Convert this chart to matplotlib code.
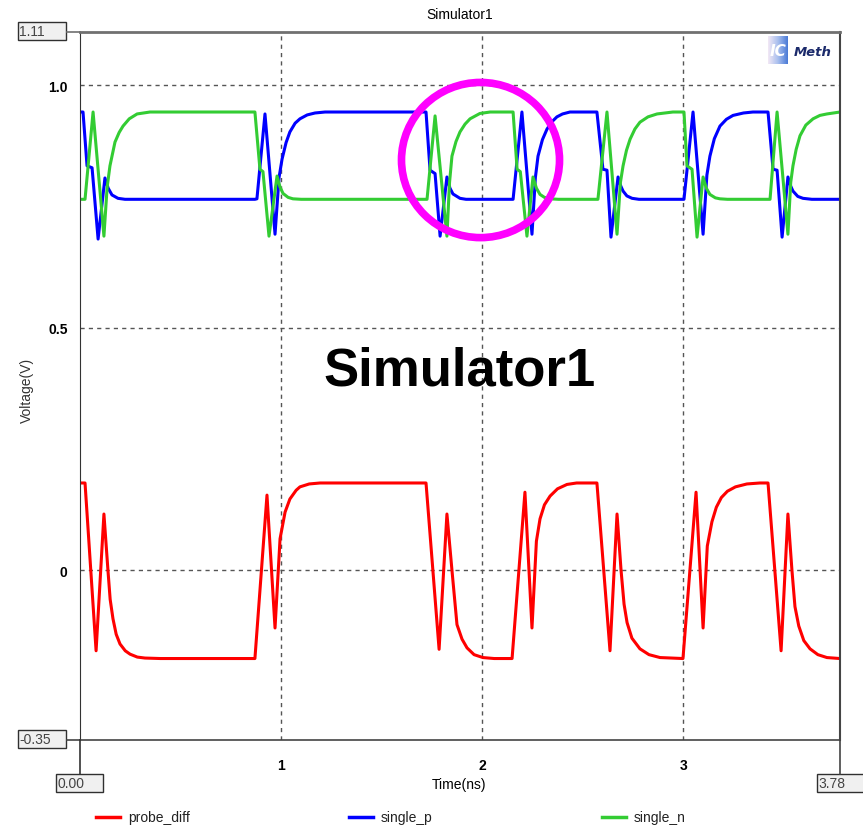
import numpy as np
import matplotlib.pyplot as plt
from matplotlib.colors import LinearSegmentedColormap
from matplotlib.patches import Ellipse, Rectangle
from matplotlib.lines import Line2D

W, H = 863, 828
SANS = ['Liberation Sans', 'DejaVu Sans']

# probe_diff : time (ns) / voltage (V)
t_diff = [0.000, 0.025, 0.080, 0.119, 0.139, 0.150, 0.164, 0.180, 0.199, 0.225, 0.249, 0.285, 0.323, 0.400,
          0.870, 0.930, 0.970, 0.995, 1.020, 1.044, 1.075, 1.094, 1.140, 1.194,
          1.721, 1.786, 1.825, 1.850, 1.875, 1.900, 1.925, 1.960, 2.004, 2.060,
          2.149, 2.213, 2.248, 2.270, 2.288, 2.310, 2.338, 2.375, 2.422, 2.470,
          2.571, 2.636, 2.671, 2.691, 2.706, 2.721, 2.745, 2.785, 2.830, 2.885,
          2.999, 3.064, 3.099, 3.120, 3.143, 3.165, 3.190, 3.220, 3.260, 3.317, 3.382,
          3.422, 3.487, 3.521, 3.541, 3.556, 3.575, 3.600, 3.631, 3.670, 3.715, 3.780]
v_diff = [0.180, 0.180, -0.166, 0.116, 0.000, -0.060, -0.100, -0.132, -0.152, -0.166, -0.173, -0.179, -0.181, -0.182,
          -0.182, 0.155, -0.119, 0.065, 0.120, 0.147, 0.165, 0.172, 0.178, 0.180,
          0.180, -0.163, 0.116, 0.000, -0.112, -0.142, -0.160, -0.174, -0.180, -0.182,
          -0.182, 0.161, -0.119, 0.060, 0.106, 0.135, 0.153, 0.168, 0.177, 0.180,
          0.180, -0.166, 0.116, 0.000, -0.070, -0.108, -0.140, -0.162, -0.174, -0.180,
          -0.182, 0.161, -0.119, 0.050, 0.100, 0.130, 0.150, 0.163, 0.172, 0.178, 0.180,
          0.180, -0.166, 0.116, 0.000, -0.075, -0.115, -0.145, -0.162, -0.174, -0.180, -0.182]

# single_p
t_p = [0.000, 0.015, 0.035, 0.060, 0.090, 0.124, 0.140, 0.159, 0.189, 0.224,
       0.870, 0.880, 0.920, 0.970, 0.990, 1.005, 1.025, 1.044, 1.070, 1.094, 1.130, 1.169, 1.219,
       1.721, 1.741, 1.766, 1.791, 1.825, 1.840, 1.855, 1.890, 1.920,
       2.154, 2.198, 2.248, 2.265, 2.278, 2.300, 2.323, 2.350, 2.372, 2.400, 2.437,
       2.571, 2.601, 2.621, 2.641, 2.676, 2.690, 2.701, 2.720, 2.746, 2.780,
       3.004, 3.049, 3.099, 3.118, 3.133, 3.155, 3.183, 3.215, 3.248, 3.300, 3.347,
       3.422, 3.447, 3.467, 3.492, 3.521, 3.535, 3.546, 3.570, 3.596, 3.640, 3.780]
v_p = [0.945, 0.945, 0.834, 0.830, 0.683, 0.809, 0.788, 0.774, 0.767, 0.765,
       0.765, 0.766, 0.941, 0.693, 0.810, 0.848, 0.882, 0.904, 0.922, 0.931, 0.939, 0.943, 0.945,
       0.945, 0.825, 0.818, 0.689, 0.811, 0.788, 0.776, 0.767, 0.765,
       0.765, 0.945, 0.693, 0.810, 0.854, 0.888, 0.910, 0.926, 0.935, 0.941, 0.945,
       0.945, 0.827, 0.825, 0.687, 0.811, 0.792, 0.782, 0.772, 0.767, 0.765,
       0.765, 0.945, 0.693, 0.815, 0.854, 0.890, 0.916, 0.930, 0.938, 0.943, 0.945,
       0.945, 0.827, 0.825, 0.687, 0.811, 0.792, 0.782, 0.771, 0.767, 0.765, 0.765]

# single_n
t_n = [0.000, 0.025, 0.065, 0.119, 0.135, 0.149, 0.174, 0.195, 0.214, 0.245, 0.284, 0.348,
       0.870, 0.895, 0.910, 0.940, 0.980, 0.995, 1.010, 1.035, 1.059, 1.100,
       1.726, 1.766, 1.825, 1.838, 1.850, 1.870, 1.890, 1.915, 1.940, 1.989, 2.040,
       2.154, 2.174, 2.190, 2.223, 2.253, 2.270, 2.288, 2.310, 2.338, 2.380,
       2.576, 2.621, 2.671, 2.688, 2.701, 2.718, 2.736, 2.760, 2.785, 2.825, 2.870, 2.949,
       3.004, 3.019, 3.044, 3.069, 3.099, 3.115, 3.133, 3.160, 3.183, 3.220,
       3.432, 3.467, 3.521, 3.535, 3.546, 3.562, 3.581, 3.610, 3.646, 3.680, 3.715, 3.780]
v_n = [0.765, 0.765, 0.945, 0.689, 0.790, 0.834, 0.883, 0.903, 0.916, 0.931, 0.941, 0.945,
       0.945, 0.827, 0.822, 0.689, 0.813, 0.790, 0.777, 0.769, 0.766, 0.765,
       0.765, 0.937, 0.689, 0.800, 0.854, 0.884, 0.904, 0.920, 0.931, 0.942, 0.945,
       0.945, 0.827, 0.822, 0.689, 0.811, 0.788, 0.775, 0.769, 0.766, 0.765,
       0.765, 0.945, 0.693, 0.800, 0.834, 0.866, 0.889, 0.910, 0.924, 0.935, 0.941, 0.945,
       0.945, 0.834, 0.827, 0.687, 0.811, 0.788, 0.775, 0.768, 0.766, 0.765,
       0.765, 0.945, 0.693, 0.800, 0.834, 0.868, 0.896, 0.918, 0.931, 0.938, 0.941, 0.945]

series_names = ['probe_diff', 'single_p', 'single_n']
series_colors = ['#ff0000', '#0000ff', '#33cc33']
x_ticks = [1, 2, 3]
y_ticks = [0, 0.5, 1.0]
y_ticklabels = ['0', '0.5', '1.0']
x_lim = (0.0, 3.78)
y_lim = (-0.35, 1.11)


def fx(px):
    return px / W


def fy(py):
    return 1 - py / H


fig = plt.figure(figsize=(W / 100, H / 100), dpi=100)
ax = fig.add_axes([fx(80), fy(741), 760 / W, 708 / H])

for (t, v), name, c in zip([(t_diff, v_diff), (t_p, v_p), (t_n, v_n)],
                           series_names, series_colors):
    ax.plot(t, v, color=c, lw=2.2, label=name, solid_joinstyle='round')

ax.set_xlim(*x_lim)
ax.set_ylim(*y_lim)
ax.set_xticks(x_ticks)
ax.set_xticklabels([str(x) for x in x_ticks])
ax.set_yticks(y_ticks)
ax.set_yticklabels(y_ticklabels)
ax.tick_params(length=0)
ax.tick_params(axis='x', pad=13)
ax.tick_params(axis='y', pad=9)
for lab in ax.get_xticklabels() + ax.get_yticklabels():
    lab.set_family(SANS)
    lab.set_fontweight('bold')
    lab.set_fontsize(10)
ax.grid(True, ls=(0, (3, 3)), color='#555555', lw=1)

ax.spines['top'].set_color('#707070')
ax.spines['top'].set_linewidth(2)
ax.spines['left'].set_color('#333333')
ax.spines['bottom'].set_color('#444444')
ax.spines['bottom'].set_linewidth(1.2)
ax.spines['right'].set_color('#444444')
ax.spines['right'].set_linewidth(1.5)

# highlight ring and overlay caption
ax.add_patch(Ellipse((1.992, 0.846), 0.786, 0.320, fill=False,
                     ec='#ff00ff', lw=5.5, zorder=5))
fig.text(fx(460), fy(385), 'Simulator1', ha='center', va='baseline',
         fontsize=38, fontweight='bold', family=SANS)

# frame extensions out to the range boxes
for (x0, y0, x1, y1, c) in [(67, 33, 80, 33, '#707070'), (67, 741, 80, 741, '#444444'),
                            (80, 741, 80, 775, '#333333'), (840, 741, 840, 775, '#444444')]:
    fig.add_artist(Line2D([fx(x0), fx(x1)], [fy(y0), fy(y1)], color=c, lw=1.2))

# range boxes
for (x0, y0, x1, y1, txt) in [(18, 23, 66, 41, '1.11'), (18, 731, 66, 749, '-0.35'),
                              (56, 775, 103, 793, '0.00'), (817, 775, 865, 793, '3.78')]:
    fig.add_artist(Rectangle((fx(x0), fy(y1)), fx(x1 - x0), (y1 - y0) / H,
                             fc='#f0f0f0', ec='#303030', lw=1))
    fig.text(fx(x0 + 1), fy((y0 + y1) / 2), txt, ha='left', va='center',
             fontsize=10, color='#444444', family=SANS)

# titles and axis labels
fig.text(fx(460), fy(15), 'Simulator1', ha='center', va='center',
         fontsize=10, family=SANS)
fig.text(fx(459), fy(785), 'Time(ns)', ha='center', va='center',
         fontsize=10, family=SANS)
fig.text(fx(27), fy(390), 'Voltage(V)', ha='center', va='center',
         rotation=90, fontsize=10, family=SANS, color='#333333')

# legend row
for i, (name, c) in enumerate(zip(series_names, series_colors)):
    x0 = 96 + 253 * i
    fig.add_artist(Line2D([fx(x0), fx(x0 + 24)], [fy(818), fy(818)], color=c, lw=2.5))
    fig.text(fx(x0 + 32), fy(818), name, ha='left', va='center',
             fontsize=10, family=SANS, color='#222222')

# logo
lax = fig.add_axes([fx(768), fy(65), 20 / W, 28 / H])
grad = np.linspace(0, 1, 64)[None, :]
lax.imshow(grad, cmap=LinearSegmentedColormap.from_list(
    'logo', ['#f2e8f5', '#a9bfee', '#4a7ad6']), aspect='auto')
lax.axis('off')
fig.text(fx(770), fy(52), 'IC', fontsize=11, fontweight='bold', style='italic',
         color='white', va='center', family=['DejaVu Sans'])
fig.text(fx(794), fy(53), 'Meth', fontsize=9.5, fontweight='bold', style='italic',
         color='#1b2a6b', va='center', family=['DejaVu Sans'])

fig.savefig('out.png', dpi=100)
